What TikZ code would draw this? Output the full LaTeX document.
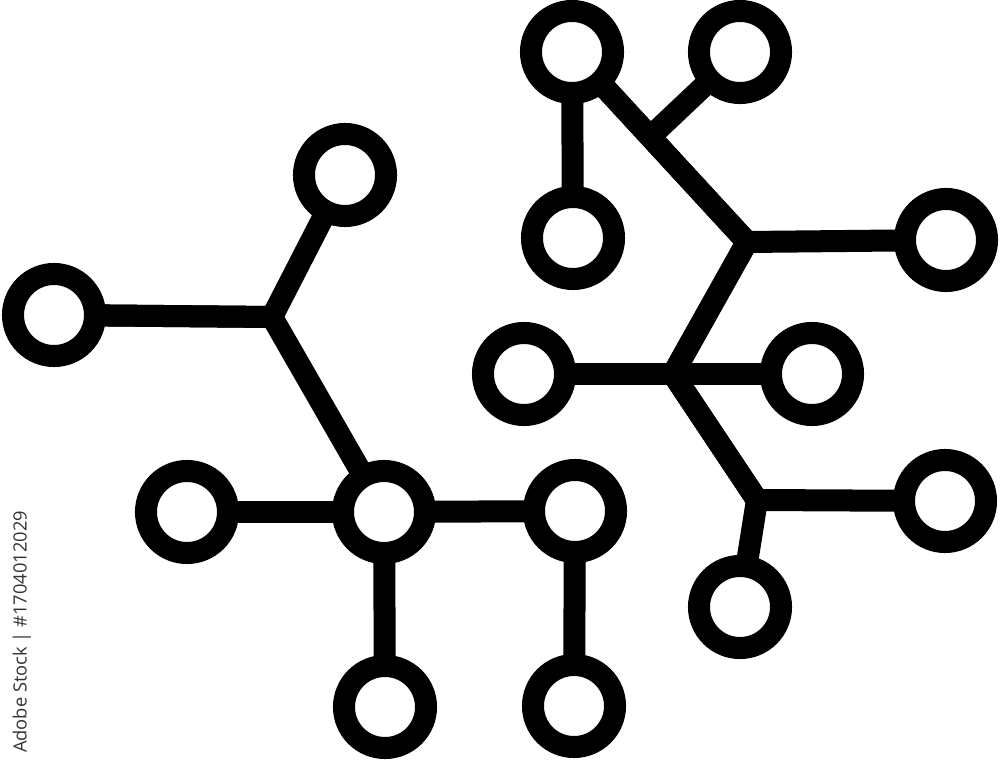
\documentclass[tikz,border=0pt]{standalone}
\usepackage{fontspec}
\newfontfamily\wmfont{Open Sans}
\begin{document}
\begin{tikzpicture}[x=0.01cm,y=-0.01cm,
  ring/.style={circle,draw=black,fill=white,line width=0.22cm,minimum size=0.82cm,inner sep=0pt,outer sep=0pt},
  link/.style={draw=black,line width=0.22cm,line join=miter},
  jn/.style={coordinate}]
\useasboundingbox (0,0) rectangle (1000,761);
% left group
\node[jn] (J1) at (272,317) {};
\node[ring] (A) at (54,315) {};
\node[ring] (B) at (345,175) {};
\node[ring] (C) at (187,512) {};
\node[ring] (D) at (384,512) {};
\node[ring] (E) at (575,511) {};
\node[ring] (F) at (385,707) {};
\node[ring] (G) at (574,706) {};
% right group
\node[jn] (J2) at (747,242) {};
\node[jn] (J5) at (650,137) {};
\node[jn] (J3) at (673,374) {};
\node[jn] (J4) at (757,500) {};
\node[ring] (H) at (572,52) {};
\node[ring] (I) at (740,52) {};
\node[ring] (K) at (573,238) {};
\node[ring] (L) at (946,240) {};
\node[ring] (M) at (524,374) {};
\node[ring] (N) at (812,374) {};
\node[ring] (O) at (945,501) {};
\node[ring] (P) at (740,607) {};
% connectors
\path[link] (A) -- (J1) -- (B);
\path[link] (A) -- (J1) -- (D);
\path[link] (C) -- (D);
\path[link] (D) -- (E);
\path[link] (D) -- (F);
\path[link] (E) -- (G);
\path[link] (H) -- (K);
\path[link] (H) -- (J2) -- (L);
\path[link] (H) -- (J2) -- (J3);
\path[link] (I) -- (J5);
\path[link] (M) -- (N);
\path[link] (J2) -- (J3) -- (J4);
\path[link] (J3) -- (J4) -- (O);
\path[link] (J3) -- (J4) -- (P);
% watermark caption
\node[rotate=90,text=black!80,font=\wmfont\fontsize{5.2}{6}\selectfont,inner sep=0pt] (wm) at (22,632) {Adobe Stock | \#1704012029};
\end{tikzpicture}
\end{document}
